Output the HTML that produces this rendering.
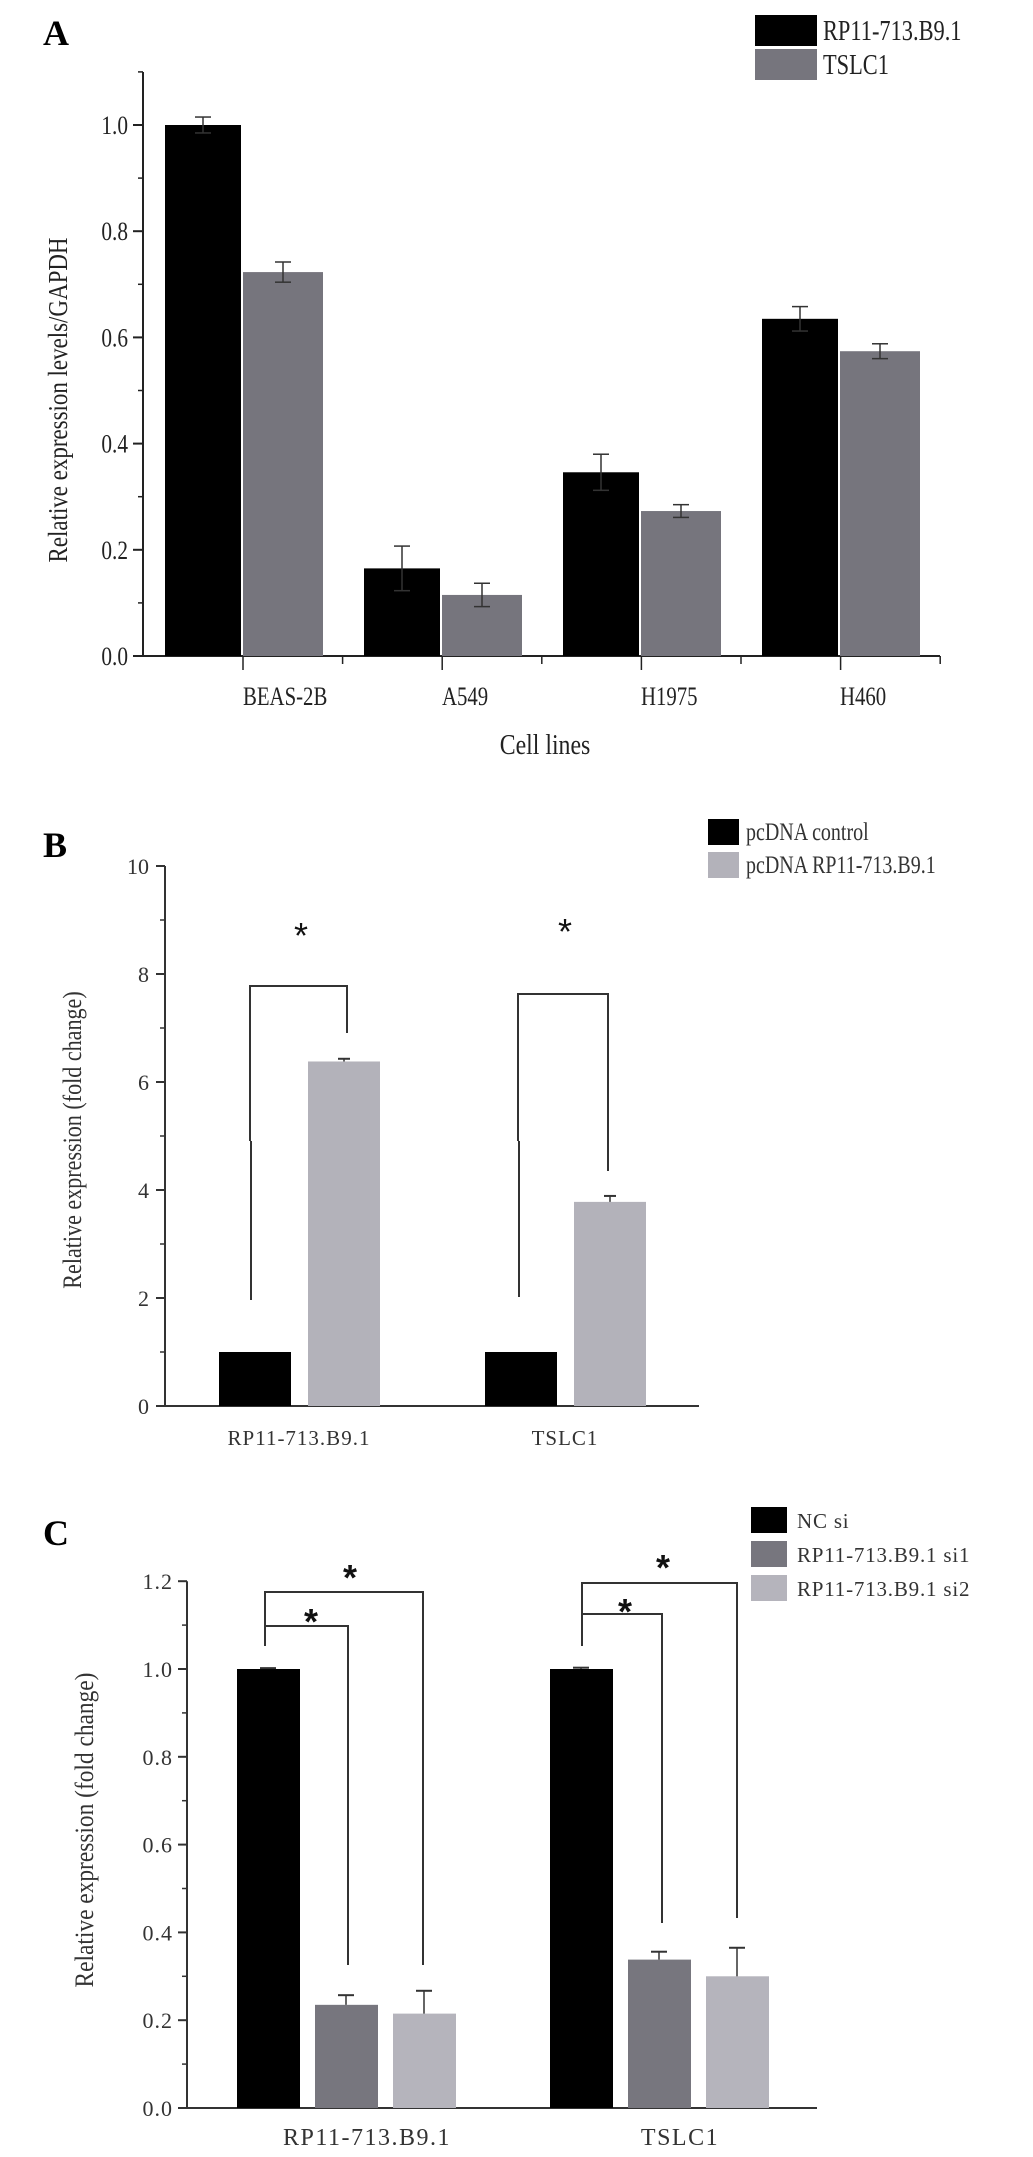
<!DOCTYPE html>
<html><head><meta charset="utf-8"><style>
html,body{margin:0;padding:0;background:#fff;}
svg{display:block;font-family:"Liberation Serif","DejaVu Serif",serif;}
</style></head><body>
<svg id="fig" width="1033" height="2157" viewBox="0 0 1033 2157" xmlns="http://www.w3.org/2000/svg">
<text x="43" y="45" font-size="36" font-weight="bold">A</text>
<text x="43" y="857" font-size="36" font-weight="bold">B</text>
<text x="43" y="1545" font-size="36" font-weight="bold">C</text>
</svg>
<script>
// ---------- Panel A data ----------
const aCategories = ["BEAS-2B","A549","H1975","H460"];
const aSeriesNames = ["RP11-713.B9.1","TSLC1"];
const aBlack = [1.0,0.165,0.346,0.635];
const aBlackErr = [0.015,0.042,0.034,0.023];
const aGray = [0.723,0.115,0.273,0.574];
const aGrayErr = [0.019,0.022,0.012,0.014];
const aTicks = ["0.0","0.2","0.4","0.6","0.8","1.0"];
// ---------- Panel B data ----------
const bCategories = ["RP11-713.B9.1","TSLC1"];
const bSeriesNames = ["pcDNA control","pcDNA RP11-713.B9.1"];
const bControl = [1,1];
const bControlErr = [0,0];
const bOver = [6.38,3.78];
const bOverErr = [0.05,0.11];
const bTicks = ["0","2","4","6","8","10"];
// ---------- Panel C data ----------
const cCategories = ["RP11-713.B9.1","TSLC1"];
const cSeriesNames = ["NC si","RP11-713.B9.1 si1","RP11-713.B9.1 si2"];
const cNC = [1.0,1.0];
const cNCErr = [0.002,0.003];
const cSi1 = [0.235,0.338];
const cSi1Err = [0.022,0.018];
const cSi2 = [0.215,0.300];
const cSi2Err = [0.052,0.065];
const cTicks = ["0.0","0.2","0.4","0.6","0.8","1.0","1.2"];

const NS="http://www.w3.org/2000/svg";
const svg=document.getElementById('fig');
function mk(tag,attrs,parent){const e=document.createElementNS(NS,tag);for(const k in attrs)e.setAttribute(k,attrs[k]);(parent||svg).appendChild(e);return e;}

// ===== Panel A =====
const aX0=143, aY0=656, aPx=531;
const ay=v=>aY0-v*aPx;
const aGroupX=i=>165+i*199;
let g=mk('g',{});


let ln=mk('line',{x1:aX0,y1:72,x2:aX0,y2:aY0,stroke:'#222','stroke-width':2},g);


ln=mk('line',{x1:aX0,y1:aY0,x2:940,y2:aY0,stroke:'#222','stroke-width':2},g);


aTicks.forEach((t,i)=>{const v=parseFloat(t);const y=ay(v);
 mk('line',{x1:aX0-10,y1:y,x2:aX0,y2:y,stroke:'#222','stroke-width':2},g);
 if(i<aTicks.length) mk('line',{x1:aX0-5,y1:ay(v+0.1),x2:aX0,y2:ay(v+0.1),stroke:'#222','stroke-width':1.5},g);
 const tx=mk('text',{x:aX0-15,y:y+9,'font-size':26,'text-anchor':'end',transform:`translate(${aX0-15},0) scale(0.82,1) translate(${-(aX0-15)},0)`,fill:'#222'},g);
 tx.textContent=t;
 
 
});
for(let k=0;k<8;k++){const x=243+k*99.6;mk('line',{x1:x,y1:aY0,x2:x,y2:aY0+(k%2?8:14),stroke:'#222','stroke-width':1.5},g);}
aCategories.forEach((c,i)=>{
 const bx=aGroupX(i);
 let r=mk('rect',{x:bx,y:ay(aBlack[i]),width:76,height:aY0-ay(aBlack[i]),fill:'#000'},g);
 
 
 r=mk('rect',{x:bx+78,y:ay(aGray[i]),width:80,height:aY0-ay(aGray[i]),fill:'#76757d'},g);
 
 
 [[bx+38,aBlack[i],aBlackErr[i]],[bx+118,aGray[i],aGrayErr[i]]].forEach(([cx,v,e])=>{
  mk('line',{x1:cx,y1:ay(v+e),x2:cx,y2:ay(v-e),stroke:'#333','stroke-width':1.5},g);
  mk('line',{x1:cx-8,y1:ay(v+e),x2:cx+8,y2:ay(v+e),stroke:'#333','stroke-width':1.5},g);
  mk('line',{x1:cx-8,y1:ay(v-e),x2:cx+8,y2:ay(v-e),stroke:'#333','stroke-width':1.5},g);
 });
 const lx=243+i*199;
 const tx=mk('text',{x:lx,y:705,'font-size':26,fill:'#222',transform:`translate(${lx},0) scale(0.8,1) translate(${-lx},0)`},g);
 tx.textContent=c;
 
 
});
let tt=mk('text',{x:0,y:0,'font-size':27,'text-anchor':'middle',fill:'#222',transform:'translate(67,400) rotate(-90) scale(0.85,1)'},g);
tt.textContent='Relative expression levels/GAPDH';


tt=mk('text',{x:0,y:0,'font-size':28,'text-anchor':'middle',fill:'#222',transform:'translate(545,754) scale(0.85,1)'},g);
tt.textContent='Cell lines';


[['#000',15],['#76757d',49]].forEach(([col,y],i)=>{
 const r=mk('rect',{x:755,y:y,width:62,height:31,fill:col},g);
 
 
 const t=mk('text',{x:0,y:0,'font-size':28,fill:'#222',transform:`translate(823,${y+25}) scale(0.8,1)`},g);
 t.textContent=aSeriesNames[i];
 
 
});

// ===== Panel B =====
const bX0=165, bY0=1406, bPx=54;
const by=v=>bY0-v*bPx;
const bGroupX=i=>219+i*266;
g=mk('g',{});


ln=mk('line',{x1:bX0,y1:by(10),x2:bX0,y2:bY0,stroke:'#333','stroke-width':2},g);


ln=mk('line',{x1:bX0,y1:bY0,x2:699,y2:bY0,stroke:'#333','stroke-width':2},g);


bTicks.forEach(t=>{const v=parseFloat(t);const y=by(v);
 mk('line',{x1:bX0-9,y1:y,x2:bX0,y2:y,stroke:'#333','stroke-width':2},g);
 if(v<10) mk('line',{x1:bX0-5,y1:by(v+1),x2:bX0,y2:by(v+1),stroke:'#333','stroke-width':1.5},g);
 const tx=mk('text',{x:bX0-16,y:y+8,'font-size':22,'text-anchor':'end',fill:'#333'},g);
 tx.textContent=t;
 
 
});
bCategories.forEach((c,i)=>{
 const bx=bGroupX(i);
 let r=mk('rect',{x:bx,y:by(bControl[i]),width:72,height:bY0-by(bControl[i]),fill:'#000'},g);
 
 
 r=mk('rect',{x:bx+89,y:by(bOver[i]),width:72,height:bY0-by(bOver[i]),fill:'#b3b2ba'},g);
 
 
 const cx=bx+125, e=bOverErr[i], v=bOver[i];
 mk('line',{x1:cx,y1:by(v+e),x2:cx,y2:by(v),stroke:'#333','stroke-width':1.5},g);
 mk('line',{x1:cx-6,y1:by(v+e),x2:cx+6,y2:by(v+e),stroke:'#333','stroke-width':2},g);
 const tx=mk('text',{x:bx+80,y:1445,'font-size':21,'text-anchor':'middle',fill:'#333','letter-spacing':1},g);
 tx.textContent=c;
 
 
});
// significance brackets B
[[251,347,986,1300,1033,301,948],[519,608,994,1297,1171,565,944]].forEach(([l,r,top,lb,rb,sx,sy])=>{
 const p=mk('path',{d:`M${l},${lb} L${l},1141 M${l-1},1141 L${l-1},${top} L${r},${top} L${r},${rb}`,fill:'none',stroke:'#333','stroke-width':2},g);
 
 
 const s=mk('text',{x:sx,y:sy,'font-size':36,'text-anchor':'middle','font-family':'Liberation Sans, sans-serif',fill:'#111'},g);
 s.textContent='*';
 
 
});
tt=mk('text',{x:0,y:0,'font-size':26,'text-anchor':'middle',fill:'#333',transform:'translate(81,1140) rotate(-90) scale(0.85,1)'},g);
tt.textContent='Relative expression (fold change)';


[['#000',819],['#b3b2ba',852]].forEach(([col,y],i)=>{
 const r=mk('rect',{x:708,y:y,width:31,height:26,fill:col},g);
 
 
 const t=mk('text',{x:0,y:0,'font-size':25,fill:'#333',transform:`translate(746,${y+21}) scale(0.8,1)`},g);
 t.textContent=bSeriesNames[i];
 
 
});

// ===== Panel C =====
const cX0=187, cY0=2108, cPx=439;
const cy=v=>cY0-v*cPx;
const cGroupX=i=>237+i*313;
g=mk('g',{});


ln=mk('line',{x1:cX0,y1:cy(1.2),x2:cX0,y2:cY0,stroke:'#333','stroke-width':2},g);


ln=mk('line',{x1:cX0,y1:cY0,x2:817,y2:cY0,stroke:'#333','stroke-width':2},g);


cTicks.forEach(t=>{const v=parseFloat(t);const y=cy(v);
 mk('line',{x1:cX0-9,y1:y,x2:cX0,y2:y,stroke:'#333','stroke-width':2},g);
 if(v<1.2) mk('line',{x1:cX0-5,y1:cy(v+0.1),x2:cX0,y2:cy(v+0.1),stroke:'#333','stroke-width':1.5},g);
 const tx=mk('text',{x:cX0-14,y:y+8,'font-size':22,'text-anchor':'end',fill:'#333','letter-spacing':1},g);
 tx.textContent=t;
 
 
});
const cVals=[cNC,cSi1,cSi2], cErrs=[cNCErr,cSi1Err,cSi2Err], cCols=['#000','#77767e','#b5b4bc'];
cCategories.forEach((c,i)=>{
 const bx=cGroupX(i);
 cVals.forEach((arr,s)=>{
  const x=bx+s*78, v=arr[i], e=cErrs[s][i];
  const r=mk('rect',{x:x,y:cy(v),width:63,height:cY0-cy(v),fill:cCols[s]},g);
  
  
  const cx=x+31;
  mk('line',{x1:cx,y1:cy(v+e),x2:cx,y2:cy(v),stroke:'#333','stroke-width':1.5},g);
  mk('line',{x1:cx-8,y1:cy(v+e),x2:cx+8,y2:cy(v+e),stroke:'#333','stroke-width':2},g);
 });
 const tx=mk('text',{x:bx+130,y:2145,'font-size':24,'text-anchor':'middle',fill:'#333','letter-spacing':1.5},g);
 tx.textContent=c;
 
 
});
// significance brackets C
[[265,423,1592,1965,350,1590],[265,348,1626,1965,311,1634],[582,737,1583,1918,663,1580],[582,662,1614,1923,625,1624]].forEach(([l,r,top,rb,sx,sy])=>{
 const p=mk('path',{d:`M${l},1646 L${l},${top} L${r},${top} L${r},${rb}`,fill:'none',stroke:'#333','stroke-width':2},g);
 
 
 const s=mk('text',{x:sx,y:sy,'font-size':36,'text-anchor':'middle','font-family':'Liberation Sans, sans-serif','font-weight':'bold',fill:'#111'},g);
 s.textContent='*';
 
 
});
tt=mk('text',{x:0,y:0,'font-size':26,'text-anchor':'middle',fill:'#333',transform:'translate(93,1830) rotate(-90) scale(0.9,1)'},g);
tt.textContent='Relative expression (fold change)';


[1507,1541,1575].forEach((y,i)=>{
 const r=mk('rect',{x:751,y:y,width:36,height:26,fill:cCols[i]},g);
 
 
 const t=mk('text',{x:797,y:y+21,'font-size':21,fill:'#333','letter-spacing':0.8},g);
 t.textContent=cSeriesNames[i];
 
 
});
</script>
</body></html>
